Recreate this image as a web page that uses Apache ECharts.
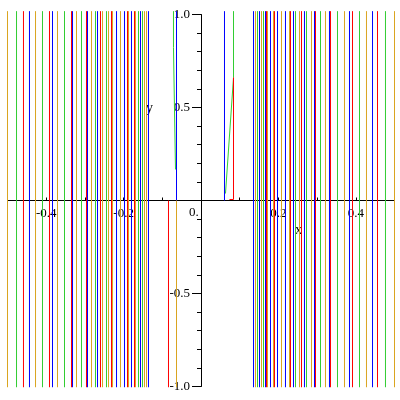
<!DOCTYPE html>
<html>
<head>
<meta charset="utf-8">
<script src="https://cdn.jsdelivr.net/npm/echarts@6/dist/echarts.min.js"></script>
<style>html,body{margin:0;padding:0;background:#fff;}#chart{width:400px;height:400px;}</style>
</head>
<body>
<div id="chart"></div>
<script>
// axis ranges
const xRange = [-0.5, 0.5];
const yRange = [-1, 1];
// vertical extent of the full-height lines
const lineBottom = -1.004;
const lineTop = 1.018;

// x positions of full-height vertical lines, by colour
const orangeX = [-0.5, -0.4276, -0.3708, -0.3217, -0.2829, -0.2545, -0.2390, -0.2287, -0.2080, -0.1873, -0.1693, -0.1460, -0.1408,
  0.1408, 0.1563, 0.1718, 0.1873, 0.2080, 0.2287, 0.2545, 0.2855, 0.3217, 0.3708, 0.4276, 0.5];
const greenX = [-0.4767, -0.4096, -0.3527, -0.3088, -0.2726, -0.2442, -0.1615, -0.1512,
  0.1460, 0.1615, 0.2442, 0.2726, 0.3088, 0.3527, 0.4096, 0.4767];
const redX = [-0.4587, -0.3915, -0.3346, -0.2959, -0.2597, -0.2313, -0.1899, -0.1718,
  0.1693, 0.1899, 0.2313, 0.2597, 0.2959, 0.3346, 0.3915, 0.4561];
const blueX = [-0.4432, -0.3837, -0.3320, -0.2933, -0.2674, -0.2183, -0.1977, -0.1796, -0.1563, -0.1357,
  0.1357, 0.1512, 0.1667, 0.1796, 0.1977, 0.2183, 0.2390, 0.2674, 0.2933, 0.3320, 0.3837, 0.4432];

// pieces near the origin
const centerBlueLeft = [[-0.0633, 0], [-0.0633, 1.018]];
const centerOrangeLeft = [[-0.0633, 0], [-0.0633, -1.004]];
const centerRedLeft = [[-0.0840, 0], [-0.0840, -1.004]];
const centerGreenLeft = [[-0.0711, 1.018], [-0.0711, 0.8226], [-0.0685, 0.8172], [-0.0659, 0.1667]];
const centerBlueRight = [[0.0607, 0], [0.0607, 1.018]];
const centerGreenRight = [[0.0840, 1.018], [0.0840, 0.6613], [0.0633, 0.0376]];
const centerRedRight = [[0.0840, 0.6613], [0.0840, 0.0054], [0.0736, 0.0054]];

// tick labels
const xTickLabels = [-0.4, -0.2, 0.2, 0.4];
const yTickLabels = [-1.0, -0.5, 0.5, 1.0];

const colors = { orange: '#DAA520', green: '#32CD32', red: '#FF0000', blue: '#0000FF' };
const FONT = 'Liberation Serif';

const series = [];
function addLine(data, color) {
  series.push({
    type: 'line', data: data, showSymbol: false, symbol: 'none', silent: true,
    animation: false, clip: false, lineStyle: { color: color, width: 1 }, z: 2
  });
}
function addVerticals(xs, color) {
  xs.forEach(x => addLine([[x, lineBottom], [x, lineTop]], color));
}
addVerticals(orangeX, colors.orange);
addVerticals(greenX, colors.green);
addVerticals(redX, colors.red);
addVerticals(blueX, colors.blue);
addLine(centerGreenLeft, colors.green);
addLine(centerBlueLeft, colors.blue);
addLine(centerOrangeLeft, colors.orange);
addLine(centerRedLeft, colors.red);
addLine(centerBlueRight, colors.blue);
addLine(centerGreenRight, colors.green);
addLine(centerRedRight, colors.red);

const gridLeft = 7.5, gridRight = 5.5, gridTop = 14.5, gridBottom = 13.5;
const plotW = 400 - gridLeft - gridRight, plotH = 400 - gridTop - gridBottom;

const chart = echarts.init(document.getElementById('chart'), null, { renderer: 'canvas' });
chart.setOption({
  backgroundColor: '#fff',
  animation: false,
  grid: { left: gridLeft, right: gridRight, top: gridTop, bottom: gridBottom, containLabel: false, outerBoundsMode: 'none' },
  xAxis: {
    type: 'value', min: xRange[0], max: xRange[1], interval: 0.1,
    position: 'bottom',
    offset: -plotH * (0 - yRange[0]) / (yRange[1] - yRange[0]),
    axisLine: { onZero: false, lineStyle: { color: '#000', width: 1 } },
    axisTick: { show: true, inside: true, length: 3, lineStyle: { color: '#000' } },
    splitLine: { show: false },
    axisLabel: {
      margin: 7, color: '#000', fontFamily: FONT, fontSize: 13,
      formatter: v => {
        const m = xTickLabels.find(t => Math.abs(t - v) < 1e-6);
        return m === undefined ? '' : m.toFixed(1);
      }
    }
  },
  yAxis: {
    type: 'value', min: yRange[0], max: yRange[1], interval: 0.5,
    position: 'left',
    offset: -plotW * (0 - xRange[0]) / (xRange[1] - xRange[0]),
    axisLine: { onZero: false, lineStyle: { color: '#000', width: 1 } },
    axisTick: { show: true, inside: false, length: 9, lineStyle: { color: '#000' } },
    minorTick: { show: true, splitNumber: 5, length: 4, lineStyle: { color: '#000' } },
    splitLine: { show: false },
    minorSplitLine: { show: false },
    axisLabel: {
      margin: 11, color: '#000', fontFamily: FONT, fontSize: 13,
      formatter: v => {
        const m = yTickLabels.find(t => Math.abs(t - v) < 1e-6);
        return m === undefined ? '' : m.toFixed(1);
      }
    }
  },
  graphic: [
    { type: 'text', left: 146, top: 101, style: { text: 'y', font: '14px "Liberation Serif"', fill: '#000' } },
    { type: 'text', left: 295, top: 223, style: { text: 'x', font: '14px "Liberation Serif"', fill: '#000' } },
    { type: 'text', left: 189, top: 206, style: { text: '0.', font: '13px "Liberation Serif"', fill: '#000' } }
  ],
  series: series
});
</script>
</body>
</html>
